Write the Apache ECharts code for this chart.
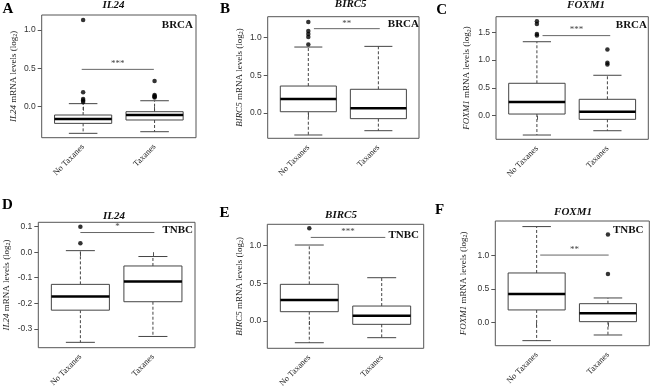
<!DOCTYPE html>
<html>
<head>
<meta charset="utf-8">
<script src="https://cdn.jsdelivr.net/npm/echarts@6/dist/echarts.min.js"></script>
<style>
  html, body { margin: 0; padding: 0; background: #fff; }
  #chart { width: 650px; height: 391px; }
</style>
</head>
<body>
<div id="chart"></div>
<script>
// groups on the x axis
const groups = ['No Taxanes', 'Taxanes'];

const letters = ['A', 'B', 'C', 'D', 'E', 'F'];
const genes = ['IL24', 'BIRC5', 'FOXM1', 'IL24', 'BIRC5', 'FOXM1'];
const cohorts = ['BRCA', 'BRCA', 'BRCA', 'TNBC', 'TNBC', 'TNBC'];
const stars = ['***', '**', '***', '*', '***', '**'];

// box stats per group: [lower whisker, Q1, median, Q3, upper whisker]
const boxA = [[-0.347, -0.217, -0.16, -0.108, 0.04], [-0.326, -0.173, -0.108, -0.065, 0.078]];
const boxB = [[-0.292, 0.017, 0.186, 0.358, 0.876], [-0.235, -0.075, 0.062, 0.315, 0.885]];
const boxC = [[-0.347, 0.03, 0.246, 0.583, 1.33], [-0.27, -0.065, 0.072, 0.295, 0.727]];
const boxD = [[-0.353, -0.227, -0.174, -0.126, 0.006], [-0.33, -0.194, -0.115, -0.054, -0.017]];
const boxE = [[-0.288, 0.124, 0.279, 0.487, 1.009], [-0.221, -0.044, 0.071, 0.199, 0.575]];
const boxF = [[-0.267, 0.189, 0.426, 0.738, 1.427], [-0.183, 0.015, 0.14, 0.282, 0.367]];

// outlying points per group
const outA = [[1.13, 0.188, 0.10, 0.08, 0.06], [0.335, 0.153, 0.14, 0.13, 0.12]];
const outB = [[1.21, 1.09, 1.05, 1.01, 0.91], []];
const outC = [[1.70, 1.65, 1.47, 1.44], [1.19, 0.95, 0.92]];
const outD = [[0.10, 0.035], []];
const outE = [[1.23], []];
const outF = [[], [1.31, 0.724]];

// y axis ranges and tick labels
const yRanges = [[-0.404, 1.196], [-0.336, 1.279], [-0.424, 1.78], [-0.374, 0.117], [-0.362, 1.284], [-0.342, 1.51]];
const yTicks = [[0, 0.5, 1.0], [0, 0.5, 1.0], [0, 0.5, 1.0, 1.5], [-0.3, -0.2, -0.1, 0, 0.1], [0, 0.5, 1.0], [0, 0.5, 1.0]];

// significance bars: [x from, x to, y]
const sigBars = [[0.98, 1.99, 0.487], [1.08, 2.02, 1.12], [1.08, 2.04, 1.44], [1.0, 2.02, 0.077], [1.02, 2.05, 1.11], [1.05, 2.01, 1.004]];

const boxes = [boxA, boxB, boxC, boxD, boxE, boxF];
const outliers = [outA, outB, outC, outD, outE, outF];

// plot frames [left, top, width, height]
const frames = [
  [41.7, 15, 154.3, 122.7],
  [267.7, 16.7, 151.3, 121.6],
  [496, 16.7, 152.3, 122.6],
  [38.3, 222.3, 156.7, 125.4],
  [267.3, 224.3, 156.4, 124],
  [495.3, 221, 154, 124.7]
];
const nameGaps = [23, 23, 24, 27, 23, 27];
const titlePos = [[113.5, 5], [350.7, 4.5], [586, 5.5], [114, 215.7], [341, 215.5], [573, 212.5]];
const letterPos = [[8, 9], [225, 9.5], [441.7, 10], [7.5, 205], [224.5, 213], [439.5, 210]];
const cohortPos = [[193, 25], [419, 23.7], [647, 25], [193, 230], [419, 234.7], [643.5, 230.5]];

const SERIF = '"Liberation Serif", "DejaVu Serif", serif';
const SANS = '"Liberation Sans", Arial, sans-serif';
const LINE = '#444';

const chart = echarts.init(document.getElementById('chart'), null, { renderer: 'canvas' });

function renderBox(params, api) {
  const x = api.value(0);
  const lo = api.value(1), q1 = api.value(2), med = api.value(3), q3 = api.value(4), hi = api.value(5);
  const c = (xx, yy) => api.coord([xx, yy]);
  const boxL = c(x - 0.4, q3), boxR = c(x + 0.4, q1);
  const ctr = c(x, med);
  const pHi = c(x, hi), pLo = c(x, lo), pQ3 = c(x, q3), pQ1 = c(x, q1);
  const capL = c(x - 0.2, 0)[0], capR = c(x + 0.2, 0)[0];
  const medL = c(x - 0.4, med), medR = c(x + 0.4, med);
  const dash = { stroke: LINE, lineWidth: 1, lineDash: [3, 2] };
  const solid = { stroke: LINE, lineWidth: 1 };
  return {
    type: 'group',
    children: [
      { type: 'line', shape: { x1: ctr[0], y1: pQ3[1], x2: ctr[0], y2: pHi[1] }, style: dash },
      { type: 'line', shape: { x1: ctr[0], y1: pQ1[1], x2: ctr[0], y2: pLo[1] }, style: dash },
      { type: 'line', shape: { x1: capL, y1: pHi[1], x2: capR, y2: pHi[1] }, style: solid },
      { type: 'line', shape: { x1: capL, y1: pLo[1], x2: capR, y2: pLo[1] }, style: solid },
      {
        type: 'rect',
        shape: { x: boxL[0], y: boxL[1], width: boxR[0] - boxL[0], height: boxR[1] - boxL[1] },
        style: { fill: '#fff', stroke: LINE, lineWidth: 1 }
      },
      { type: 'line', shape: { x1: medL[0], y1: medL[1], x2: medR[0], y2: medR[1] }, style: { stroke: '#000', lineWidth: 2.5 } }
    ]
  };
}

const sigIndex = {};

function renderSig(params, api) {
  const a = api.coord([api.value(0), api.value(2)]);
  const b = api.coord([api.value(1), api.value(2)]);
  return {
    type: 'group',
    children: [
      { type: 'line', shape: { x1: a[0], y1: a[1], x2: b[0], y2: b[1] }, style: { stroke: '#666', lineWidth: 1 } },
      {
        type: 'text',
        x: (a[0] + b[0]) / 2, y: a[1] - 1,
        style: { text: stars[sigIndex[params.seriesIndex]], fill: '#444', font: '9px ' + SERIF, align: 'center', verticalAlign: 'bottom' }
      }
    ]
  };
}

const grid = [], xAxis = [], yAxis = [], series = [], graphic = [];

frames.forEach((f, i) => {
  grid.push({ left: f[0], top: f[1], width: f[2], height: f[3], show: true, borderColor: '#555', borderWidth: 1, backgroundColor: 'transparent' });
  xAxis.push({
    gridIndex: i, type: 'value', min: 0.42, max: 2.58,
    axisLine: { show: false }, splitLine: { show: false },
    axisTick: { show: true, length: 4, customValues: [1, 2], lineStyle: { color: '#555' } },
    axisLabel: {
      customValues: [1, 2], rotate: 45, margin: 8,
      formatter: v => groups[Math.round(v) - 1],
      fontFamily: SERIF, fontSize: 8.5, color: '#222'
    }
  });
  yAxis.push({
    gridIndex: i, type: 'value', min: yRanges[i][0], max: yRanges[i][1],
    axisLine: { show: false }, splitLine: { show: false },
    axisTick: { show: true, length: 4, customValues: yTicks[i], lineStyle: { color: '#555' } },
    axisLabel: {
      customValues: yTicks[i], margin: 6,
      formatter: v => v.toFixed(1),
      fontFamily: SANS, fontSize: 8.5, color: '#333'
    },
    name: '{g|' + genes[i] + '}{n| mRNA levels (log}{s|2}{n|)}',
    nameLocation: 'middle', nameRotate: 90, nameGap: nameGaps[i],
    nameTextStyle: {
      rich: {
        g: { fontFamily: SERIF, fontStyle: 'italic', fontSize: 9, color: '#222' },
        n: { fontFamily: SERIF, fontSize: 9, color: '#222' },
        s: { fontFamily: SERIF, fontSize: 6, color: '#222', verticalAlign: 'bottom', padding: [4, 0, 0, 0] }
      }
    }
  });
  series.push({
    type: 'custom', xAxisIndex: i, yAxisIndex: i,
    renderItem: renderBox,
    data: boxes[i].map((s, g) => [g + 1].concat(s)),
    silent: true
  });
  const pts = [];
  outliers[i].forEach((vals, g) => vals.forEach(v => pts.push([g + 1, v])));
  series.push({
    type: 'scatter', xAxisIndex: i, yAxisIndex: i,
    symbol: 'circle', symbolSize: 4.5,
    itemStyle: { color: '#000' },
    data: pts, silent: true
  });
  sigIndex[series.length] = i;
  series.push({
    type: 'custom', xAxisIndex: i, yAxisIndex: i,
    renderItem: renderSig,
    data: [sigBars[i]], silent: true
  });

  graphic.push({
    type: 'text', x: titlePos[i][0], y: titlePos[i][1],
    style: { text: genes[i], font: 'italic bold 11px ' + SERIF, fill: '#111', align: 'center', verticalAlign: 'middle' }
  });
  graphic.push({
    type: 'text', x: letterPos[i][0], y: letterPos[i][1],
    style: { text: letters[i], font: 'bold 15px ' + SERIF, fill: '#000', align: 'center', verticalAlign: 'middle' }
  });
  graphic.push({
    type: 'text', x: cohortPos[i][0], y: cohortPos[i][1],
    style: { text: cohorts[i], font: 'bold 11px ' + SERIF, fill: '#111', align: 'right', verticalAlign: 'middle' }
  });
});

chart.setOption({
  animation: false,
  backgroundColor: '#fff',
  grid, xAxis, yAxis, series, graphic
});
</script>
</body>
</html>
